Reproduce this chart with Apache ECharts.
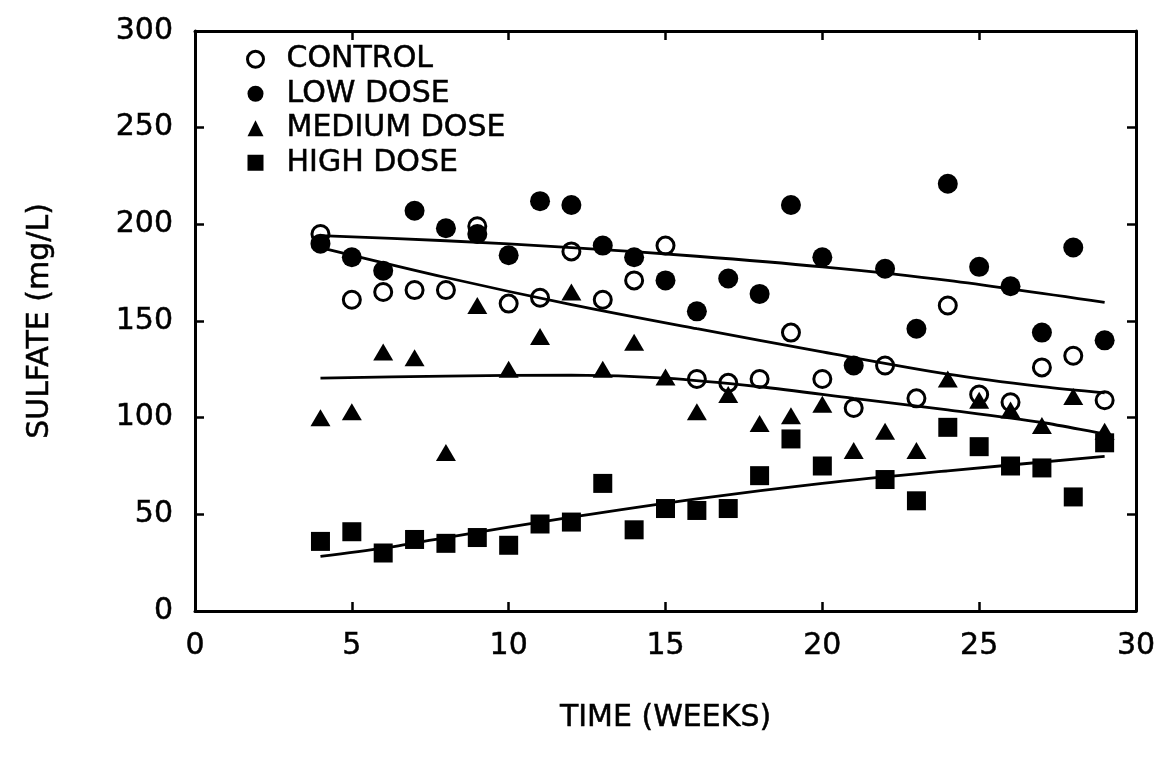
<!DOCTYPE html>
<html>
<head>
<meta charset="utf-8">
<script src="https://cdn.jsdelivr.net/npm/echarts@6/dist/echarts.min.js"></script>
<style>
html,body{margin:0;padding:0;background:#fff;}
#chart{width:1167px;height:764px;}
</style>
</head>
<body>
<div id="chart"></div>
<script>
// ---- data ----
const weeks = [4,5,6,7,8,9,10,11,12,13,14,15,16,17,18,19,20,21,22,23,24,25,26,27,28,29];
const control = [195,161,165,166,166,199,159,162,186,161,171,189,120,118,120,144,120,105,127,110,158,112,108,126,132,109];
const lowDose = [190,183,176,207,198,195,184,212,210,189,183,171,155,172,164,210,183,127,177,146,221,178,168,144,188,140];
const mediumDose = [100,103,134,131,82,158,125,142,165,125,139,121,103,112,97,101,107,83,93,83,120,109,104,96,111,93];
const highDose = [36,41,30,37,35,38,34,45,46,66,42,53,52,53,70,89,75,null,68,57,95,85,75,74,59,87];

// fitted trend curves
const lowTrendX = [4,8,12,16,20,24,29];
const lowTrendY = [194.2,191.5,188,183.5,178,171,159.6];
const controlTrendX = [4,8,12,16,20,24,27,29];
const controlTrendY = [188,172.5,158.5,146,134,122.5,116,112.8];
const mediumTrendX = [4,8,12,15,18,21,24,27,29];
const mediumTrendY = [120.5,121.5,122,120.5,116,110,104,97.5,91.5];
const highTrendX = [4,6,8,12,16,20,24,29];
const highTrendY = [28.2,32.5,38,48.5,58,66,72.5,80];

const xTicks = {min:0, max:30, interval:5};
const yTicks = {min:0, max:300, interval:50};

const seriesNames = ['CONTROL','LOW DOSE','MEDIUM DOSE','HIGH DOSE'];

function pairs(xs, ys){
  const out = [];
  for (let i = 0; i < xs.length; i++) if (ys[i] != null) out.push([xs[i], ys[i]]);
  return out;
}

const FONT = 'DejaVu Sans';
const txt = {fontFamily:FONT, fontSize:30, color:'#000', textBorderColor:'#000', textBorderWidth:0.5};
const axisLine = {show:true, onZero:false, lineStyle:{color:'#000', width:3}};
const axisTick = {show:true, inside:true, length:9, lineStyle:{color:'#000', width:2.5}};

const chart = echarts.init(document.getElementById('chart'), null, {renderer:'canvas'});

function trend(xs, ys){
  return {
    type:'line', data:pairs(xs, ys), smooth:0.3, symbol:'none', silent:true,
    lineStyle:{color:'#000', width:2.8}, z:3, legendHoverLink:false
  };
}

chart.setOption({
  animation:false,
  backgroundColor:'#fff',
  grid:{left:195, right:31, top:31, bottom:153, containLabel:false},
  legend:{
    orient:'vertical', left:241, top:39, itemGap:4,
    itemWidth:16, itemHeight:16,
    textStyle:Object.assign({}, txt, {lineHeight:30, padding:[0,0,0,18]}),
    data:[
      {name:seriesNames[0], icon:'circle', itemStyle:{color:'#fff', borderColor:'#000', borderWidth:3}},
      {name:seriesNames[1], icon:'circle', itemStyle:{color:'#000'}},
      {name:seriesNames[2], icon:'triangle', itemStyle:{color:'#000'}},
      {name:seriesNames[3], icon:'rect', itemStyle:{color:'#000'}}
    ]
  },
  xAxis:[
    {type:'value', position:'bottom', min:xTicks.min, max:xTicks.max, interval:xTicks.interval,
     axisLine, axisTick, splitLine:{show:false},
     axisLabel:Object.assign({}, txt, {margin:20}),
     name:'TIME (WEEKS)', nameLocation:'middle', nameGap:92,
     nameTextStyle:txt},
    {type:'value', position:'top', min:xTicks.min, max:xTicks.max, interval:xTicks.interval,
     axisLine, axisTick, splitLine:{show:false}, axisLabel:{show:false}}
  ],
  yAxis:[
    {type:'value', position:'left', min:yTicks.min, max:yTicks.max, interval:yTicks.interval,
     axisLine, axisTick, splitLine:{show:false},
     axisLabel:Object.assign({}, txt, {margin:22}),
     name:'SULFATE (mg/L)', nameLocation:'middle', nameGap:140,
     nameTextStyle:txt},
    {type:'value', position:'right', min:yTicks.min, max:yTicks.max, interval:yTicks.interval,
     axisLine, axisTick, splitLine:{show:false}, axisLabel:{show:false}}
  ],
  series:[
    {name:seriesNames[0], type:'scatter', data:pairs(weeks, control), symbol:'circle', symbolSize:17,
     itemStyle:{color:'#fff', borderColor:'#000', borderWidth:3, opacity:1}, z:2},
    {name:seriesNames[1], type:'scatter', data:pairs(weeks, lowDose), symbol:'circle', symbolSize:20,
     itemStyle:{color:'#000', opacity:1}, z:2},
    {name:seriesNames[2], type:'scatter', data:pairs(weeks, mediumDose), symbol:'triangle', symbolSize:[20,17],
     itemStyle:{color:'#000', opacity:1}, z:2},
    {name:seriesNames[3], type:'scatter', data:pairs(weeks, highDose), symbol:'rect', symbolSize:19,
     itemStyle:{color:'#000', opacity:1}, z:2},
    trend(lowTrendX, lowTrendY),
    trend(controlTrendX, controlTrendY),
    trend(mediumTrendX, mediumTrendY),
    trend(highTrendX, highTrendY)
  ]
});
</script>
</body>
</html>
